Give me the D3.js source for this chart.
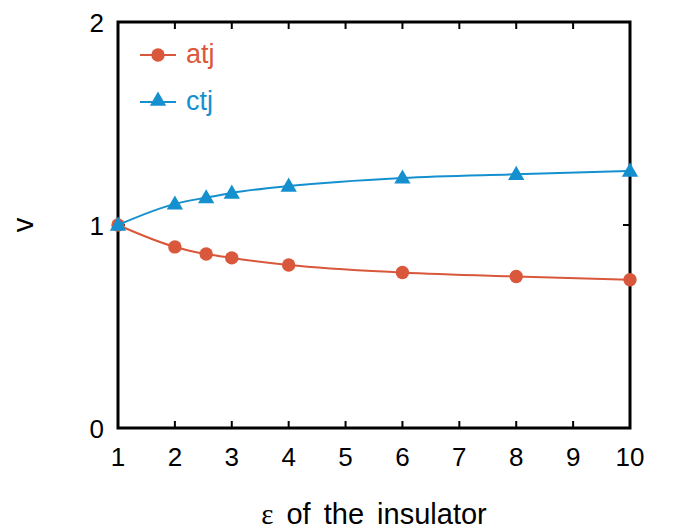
<html>
<meta charset="utf-8">
<script src="https://d3js.org/d3.v7.min.js"></script>
<style>
  body { margin: 0; background: white; }
  text { font-family: "Liberation Sans", Arial, sans-serif; }
</style>
<body>
<div id="chart"></div>
<script>

// eps values and the two series
var epsVals = [1, 2, 2.55, 3, 4, 6, 8, 10]
var atjVals = [1.0, 0.892, 0.857, 0.838, 0.803, 0.766, 0.746, 0.730]
var ctjVals = [1.0, 1.104, 1.135, 1.158, 1.192, 1.232, 1.250, 1.266]
var xTicks = [1, 2, 3, 4, 5, 6, 7, 8, 9, 10]
var yTicks = [0, 1, 2]

var width = 673, height = 531
var margin = {left: 118, right: 43, top: 22, bottom: 103}
var atjCol = "#d9573a"
var ctjCol = "#1590cf"

var svg = d3.select("#chart").append("svg")
  .attr("width", width).attr("height", height)

var x = d3.scaleLinear().domain([1, 10]).range([margin.left, width - margin.right])
var y = d3.scaleLinear().domain([0, 2]).range([height - margin.bottom, margin.top])

// frame
svg.append("rect")
  .attr("x", x(1)).attr("y", y(2))
  .attr("width", x(10) - x(1)).attr("height", y(0) - y(2))
  .attr("fill", "none").attr("stroke", "black").attr("stroke-width", 3)

// ticks, all inward
var tickLen = 7
var ticks = svg.append("g").attr("stroke", "black").attr("stroke-width", 2)
xTicks.forEach(function(t){
  ticks.append("line").attr("x1", x(t)).attr("x2", x(t)).attr("y1", y(0)).attr("y2", y(0) - tickLen)
  ticks.append("line").attr("x1", x(t)).attr("x2", x(t)).attr("y1", y(2)).attr("y2", y(2) + tickLen)
})
yTicks.forEach(function(t){
  ticks.append("line").attr("x1", x(1)).attr("x2", x(1) + tickLen).attr("y1", y(t)).attr("y2", y(t))
  ticks.append("line").attr("x1", x(10)).attr("x2", x(10) - tickLen).attr("y1", y(t)).attr("y2", y(t))
})

// tick labels
svg.append("g").selectAll("text").data(xTicks).enter().append("text")
  .attr("x", function(d){ return x(d) }).attr("y", y(0) + 38)
  .attr("text-anchor", "middle").attr("font-size", 26)
  .text(function(d){ return d })
svg.append("g").selectAll("text").data(yTicks).enter().append("text")
  .attr("x", x(1) - 14).attr("y", function(d){ return y(d) + 9.5 })
  .attr("text-anchor", "end").attr("font-size", 26)
  .text(function(d){ return d })

// axis titles
var xTitle = svg.append("text").attr("x", (x(1) + x(10)) / 2).attr("y", 524)
  .attr("text-anchor", "middle").attr("font-size", 29).attr("word-spacing", 5)
xTitle.append("tspan").attr("font-family", "Liberation Serif, serif").text("ε")
xTitle.append("tspan").text(" of the insulator")
svg.append("text").attr("transform", "translate(33," + y(1) + ") rotate(-90)")
  .attr("text-anchor", "middle").attr("font-size", 29)
  .text("v")

var line = d3.line().curve(d3.curveMonotoneX)
  .x(function(d){ return x(d[0]) }).y(function(d){ return y(d[1]) })

var atjData = epsVals.map(function(e, i){ return [e, atjVals[i]] })
var ctjData = epsVals.map(function(e, i){ return [e, ctjVals[i]] })

var tri = d3.symbol().type(d3.symbolTriangle).size(115)

function drawSeries(data, col, marker){
  svg.append("path").datum(data).attr("d", line)
    .attr("fill", "none").attr("stroke", col).attr("stroke-width", 2)
  var g = svg.append("g")
  data.forEach(function(d){
    if (marker == "circle"){
      g.append("circle").attr("cx", x(d[0])).attr("cy", y(d[1])).attr("r", 6.7).attr("fill", col)
    } else {
      g.append("path").attr("d", tri).attr("transform", "translate(" + x(d[0]) + "," + (y(d[1]) + 1) + ")").attr("fill", col)
    }
  })
}
drawSeries(atjData, atjCol, "circle")
drawSeries(ctjData, ctjCol, "triangle")

// legend
var legend = [{name: "atj", col: atjCol, marker: "circle", y: 55}, {name: "ctj", col: ctjCol, marker: "triangle", y: 102}]
legend.forEach(function(l){
  svg.append("line").attr("x1", 140).attr("x2", 176).attr("y1", l.y).attr("y2", l.y)
    .attr("stroke", l.col).attr("stroke-width", 2)
  if (l.marker == "circle"){
    svg.append("circle").attr("cx", 158).attr("cy", l.y).attr("r", 6.7).attr("fill", l.col)
  } else {
    svg.append("path").attr("d", tri).attr("transform", "translate(158," + (l.y - 1) + ")").attr("fill", l.col)
  }
  svg.append("text").attr("x", 186).attr("y", l.y + 8).attr("font-size", 27).attr("fill", l.col).text(l.name)
})

</script>
</body>
</html>
